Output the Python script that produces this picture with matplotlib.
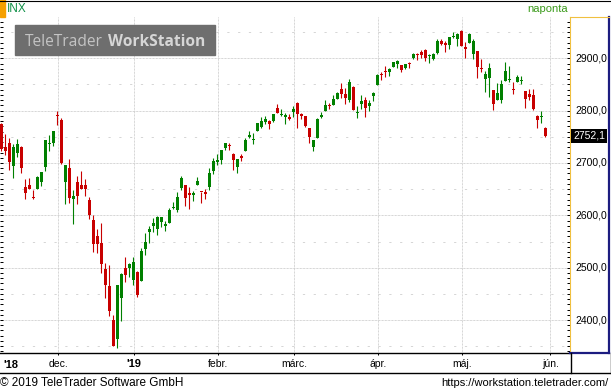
import numpy as np
import pandas as pd
import matplotlib
matplotlib.use('Agg')
import matplotlib.pyplot as plt
from matplotlib.patches import Rectangle

plt.rcParams['font.family'] = ['Liberation Sans', 'DejaVu Sans']

# trading days shown (INX daily, Nov 12 2018 - May 31 2019)
holidays = ['2018-11-22', '2018-12-05', '2018-12-25', '2019-01-01', '2019-01-21',
            '2019-02-18', '2019-04-19', '2019-05-27']
dates = pd.bdate_range('2018-11-12', '2019-05-31', freq='C', holidays=holidays)

opens = [2773.93, 2730.05, 2737.90, 2693.52, 2718.54, 2730.74, 2654.60, 2657.74, 2633.36, 2649.97,
         2663.75, 2691.45, 2736.97, 2737.76, 2790.50, 2782.43, 2663.51, 2691.26, 2630.86, 2664.44,
         2658.23, 2658.70, 2629.68, 2590.75, 2559.90, 2547.05, 2496.77, 2465.38, 2400.56, 2363.12,
         2442.50, 2498.77, 2498.94, 2476.96, 2491.92, 2474.33, 2535.61, 2568.11, 2580.00, 2573.51,
         2588.11, 2580.31, 2585.10, 2614.75, 2609.28, 2651.27, 2657.88, 2643.48, 2638.84, 2657.44,
         2644.97, 2644.89, 2653.62, 2685.49, 2702.32, 2706.49, 2728.34, 2735.05, 2717.53, 2692.36,
         2712.40, 2722.61, 2750.30, 2743.50, 2760.24, 2769.28, 2779.05, 2780.24, 2780.67, 2804.35,
         2792.36, 2787.50, 2788.11, 2798.22, 2814.37, 2794.41, 2790.27, 2766.53, 2730.79, 2747.61,
         2787.34, 2799.78, 2810.38, 2810.79, 2822.61, 2840.76, 2831.34, 2819.72, 2844.52, 2796.01,
         2812.66, 2819.72, 2809.40, 2828.27, 2848.63, 2868.24, 2876.09, 2873.99, 2884.16, 2888.46,
         2886.58, 2881.37, 2891.92, 2900.86, 2908.32, 2912.26, 2916.04, 2904.81, 2898.78, 2909.99,
         2934.00, 2928.99, 2925.81, 2940.58, 2937.14, 2952.33, 2922.16, 2929.21, 2908.89, 2913.03,
         2879.61, 2859.84, 2863.10, 2840.19, 2820.12, 2820.38, 2855.80, 2858.60, 2841.94, 2854.02,
         2856.06, 2836.70, 2832.41, 2830.03, 2790.25, 2786.94, 2766.15]
highs = [2775.99, 2754.60, 2746.80, 2735.38, 2746.75, 2733.16, 2669.44, 2670.73, 2647.55, 2674.35,
         2682.53, 2744.00, 2753.75, 2760.88, 2800.18, 2785.93, 2696.15, 2708.54, 2647.51, 2674.35,
         2685.44, 2670.19, 2635.07, 2601.13, 2573.99, 2585.29, 2509.63, 2504.41, 2410.34, 2467.76,
         2489.10, 2520.27, 2509.24, 2519.49, 2493.14, 2538.07, 2566.16, 2579.82, 2595.32, 2597.82,
         2596.27, 2589.32, 2613.08, 2625.76, 2645.06, 2675.47, 2657.88, 2653.19, 2647.20, 2672.38,
         2644.97, 2650.93, 2690.44, 2708.95, 2716.66, 2724.99, 2738.98, 2738.08, 2719.32, 2708.07,
         2718.05, 2748.19, 2761.85, 2757.90, 2775.66, 2787.33, 2789.88, 2781.58, 2794.20, 2813.49,
         2803.12, 2795.76, 2793.73, 2808.02, 2816.88, 2796.44, 2790.27, 2767.25, 2744.13, 2785.00,
         2798.32, 2821.24, 2815.00, 2830.73, 2835.41, 2852.42, 2843.54, 2860.31, 2846.16, 2809.79,
         2829.87, 2825.56, 2819.71, 2836.03, 2869.40, 2872.90, 2885.25, 2881.28, 2893.24, 2895.95,
         2886.88, 2889.71, 2893.42, 2910.54, 2909.60, 2916.06, 2918.00, 2908.40, 2909.51, 2936.31,
         2936.83, 2933.10, 2939.88, 2949.52, 2948.22, 2954.13, 2931.68, 2947.85, 2937.32, 2913.03,
         2897.96, 2875.97, 2891.31, 2840.19, 2852.54, 2858.68, 2892.15, 2885.48, 2853.86, 2868.88,
         2865.47, 2836.70, 2841.36, 2840.51, 2792.03, 2799.00, 2768.98]
lows = [2722.00, 2714.98, 2685.75, 2670.75, 2712.16, 2681.09, 2631.52, 2649.82, 2631.09, 2649.97,
        2655.89, 2684.38, 2722.94, 2732.76, 2773.38, 2697.18, 2621.53, 2623.14, 2583.23, 2621.30,
        2650.26, 2637.27, 2593.84, 2530.54, 2528.71, 2488.96, 2441.18, 2408.55, 2351.10, 2346.58,
        2397.94, 2472.89, 2482.82, 2467.47, 2443.96, 2474.33, 2524.56, 2547.56, 2568.89, 2562.02,
        2577.40, 2570.41, 2585.10, 2612.68, 2606.36, 2647.58, 2617.27, 2612.86, 2627.01, 2657.33,
        2624.06, 2631.05, 2648.34, 2678.65, 2696.88, 2698.75, 2724.03, 2724.15, 2687.26, 2681.83,
        2703.79, 2722.61, 2748.63, 2736.56, 2760.24, 2767.29, 2774.06, 2764.55, 2779.11, 2794.99,
        2789.47, 2775.13, 2782.51, 2787.38, 2767.66, 2783.83, 2768.69, 2739.09, 2722.27, 2747.61,
        2786.73, 2799.78, 2803.46, 2810.79, 2821.99, 2823.27, 2812.43, 2817.38, 2800.47, 2785.02,
        2803.99, 2787.72, 2798.77, 2819.23, 2848.63, 2858.75, 2865.17, 2867.14, 2882.99, 2880.78,
        2873.33, 2879.13, 2881.99, 2898.37, 2896.48, 2900.71, 2895.45, 2891.90, 2896.35, 2908.53,
        2926.05, 2912.84, 2917.56, 2939.35, 2924.11, 2923.36, 2900.50, 2929.21, 2898.21, 2862.60,
        2873.28, 2836.40, 2825.39, 2801.43, 2820.12, 2815.08, 2855.80, 2854.23, 2831.29, 2854.02,
        2851.11, 2805.49, 2820.19, 2801.58, 2766.06, 2776.74, 2750.52]
closes = [2726.22, 2722.18, 2701.58, 2730.20, 2736.27, 2690.73, 2641.89, 2649.93, 2632.56, 2673.45,
          2682.17, 2743.79, 2737.80, 2760.17, 2790.37, 2700.06, 2695.95, 2633.08, 2637.72, 2636.78,
          2651.07, 2650.54, 2599.95, 2545.94, 2546.16, 2506.96, 2467.42, 2416.62, 2351.10, 2467.70,
          2488.83, 2485.74, 2506.85, 2510.03, 2447.89, 2531.94, 2549.69, 2574.41, 2584.96, 2596.64,
          2596.26, 2582.61, 2610.30, 2616.10, 2635.96, 2670.71, 2632.90, 2638.70, 2642.33, 2664.76,
          2643.85, 2640.00, 2681.05, 2704.10, 2706.53, 2724.87, 2737.70, 2731.61, 2706.05, 2707.88,
          2709.80, 2744.73, 2753.03, 2745.73, 2775.60, 2779.76, 2784.70, 2774.88, 2792.67, 2796.11,
          2793.90, 2792.38, 2784.49, 2803.69, 2792.81, 2789.65, 2771.45, 2748.93, 2743.07, 2783.30,
          2791.52, 2810.92, 2808.48, 2822.48, 2832.94, 2832.57, 2824.23, 2854.88, 2800.71, 2798.36,
          2818.46, 2805.37, 2815.44, 2834.40, 2867.19, 2867.24, 2873.40, 2879.39, 2892.74, 2895.77,
          2878.20, 2888.21, 2888.32, 2907.41, 2905.58, 2907.06, 2900.45, 2905.03, 2907.97, 2933.68,
          2927.25, 2926.17, 2939.88, 2943.03, 2945.83, 2923.73, 2917.52, 2945.64, 2932.47, 2884.05,
          2879.42, 2870.72, 2881.40, 2811.87, 2834.41, 2850.96, 2876.32, 2859.53, 2840.23, 2864.36,
          2856.27, 2822.24, 2826.06, 2802.39, 2783.02, 2788.86, 2752.06]

month_labels = ['dec.', "'19", 'febr.', 'márc.', 'ápr.', 'máj.', 'jún.']
price_levels = [2400, 2500, 2600, 2700, 2800, 2900]

o = np.array(opens)
h = np.array(highs)
l = np.array(lows)
c = np.array(closes)
assert len(dates) == len(o)

# first trading day of each month, incl. June 3 after the data
ext = pd.bdate_range(dates[0], '2019-06-05', freq='C', holidays=holidays)
first_day = pd.Series(np.arange(len(ext)), index=ext).groupby([ext.year, ext.month]).first()
month_idx = first_day.values[1:8]

W, H = 611, 392
fig = plt.figure(figsize=(W / 100, H / 100), dpi=100)


def fy(py):
    return 1 - py / H


# main chart area: 4 px per trading day
ax = fig.add_axes([0, fy(353), 570 / W, (353 - 17) / H])
ax.set_xlim(-0.325, -0.325 + 570 / 4)
ax.set_ylim(2337.0, 2978.9)

for p in range(2350, 2980, 100):
    ax.axhline(p, color='#d6d6d6', lw=0.72, dashes=(2.2, 8.6), zorder=0)
for p in price_levels:
    ax.axhline(p, color='#c8c8c8', lw=0.72, dashes=(0.72, 0.72), zorder=0)
for m in month_idx:
    ax.axvline(m + 0.25, color='#c8c8c8', lw=0.72, dashes=(0.72, 0.72), zorder=0)

x = np.arange(len(o))
colors = np.where(c >= o, '#008000', '#c80000')
ax.vlines(x, l, h, colors=colors, lw=0.8, zorder=2)
ax.bar(x, np.maximum(np.abs(c - o), 1.9), bottom=np.minimum(o, c), width=0.75,
       color=colors, linewidth=0, zorder=3)

for s in ['top', 'right', 'left']:
    ax.spines[s].set_visible(False)
ax.spines['bottom'].set_linewidth(1.0)
ax.set_yticks(np.arange(2340, 2980, 10))
ax.tick_params(axis='y', direction='in', length=2.2, width=0.72, labelleft=False)
ax.set_xticks(month_idx + 0.25)
ax.set_xticklabels(month_labels, fontsize=7.5)
ax.tick_params(axis='x', direction='out', length=1.5, width=0.72, pad=3.0)
for lbl in ax.get_xticklabels():
    if lbl.get_text().startswith("'"):
        lbl.set_fontweight('bold')
        lbl.set_fontsize(8)

# price axis panel
ax2 = fig.add_axes([570 / W, fy(353), 39 / W, (353 - 17) / H])
ax2.set_ylim(ax.get_ylim())
ax2.set_xlim(0, 1)
ax2.set_xticks([])
ax2.spines['left'].set_color('#f0c040')
ax2.spines['top'].set_color('#f0c040')
ax2.spines['right'].set_color('#1c1c80')
ax2.spines['bottom'].set_color('#1c1c80')
ax2.spines['right'].set_linewidth(1.6)
ax2.spines['bottom'].set_linewidth(1.6)
ax2.set_yticks(np.arange(2340, 2980, 10))
ax2.tick_params(axis='y', direction='out', length=2.2, width=0.72, labelleft=False)
ytr = ax2.get_yaxis_transform()
for p in price_levels:
    ax2.text(0.14, p, f'{p},0', transform=ytr, fontsize=7.5, va='center', ha='left')
last = f'{c[-1]:.1f}'.replace('.', ',')
ax2.text(0.08, c[-1], last, transform=ytr, fontsize=7.5, va='center', ha='left', color='white',
         bbox=dict(boxstyle='square,pad=0.18', fc='black', ec='none'))

# overlay in pixel coordinates for frame, header and footer
ov = fig.add_axes([0, 0, 1, 1])
ov.set_xlim(0, W)
ov.set_ylim(H, 0)
ov.axis('off')
ov.patch.set_alpha(0)

ov.plot([0, W], [0.5, 0.5], color='black', lw=0.8)
ov.add_patch(Rectangle((0, 0), 5, 16.5, color='#f5a000'))
ov.text(7, 9, 'INX', fontsize=8.5, color='#109048', va='center', ha='left')
ov.text(548, 9, 'naponta', fontsize=8, color='#3a9a1a', va='center', ha='center')

# watermark
ov.add_patch(Rectangle((15, 25), 200, 29.5, color='#6e6e6e', zorder=3))
t1 = ov.text(25, 46, 'TeleTrader', fontsize=11.2, family='Open Sans', color='#c4c4c4',
             va='baseline', ha='left', zorder=4)
fig.canvas.draw()
bb = t1.get_window_extent()
x_end = bb.x1  # pixels from left
ov.text(x_end + 5, 46, 'WorkStation', fontsize=11.2, family='Open Sans', fontweight='bold',
        color='#d6d6d6', va='baseline', ha='left', zorder=4)

ov.plot([0, W], [373, 373], color='black', lw=1.0)
ov.plot([570.5, 570.5], [353, 373], color='black', lw=1.0)
ov.plot([610.5, 610.5], [353, 373], color='black', lw=1.0)
ov.text(3, 368.5, "'18", fontsize=8, fontweight='bold', va='baseline', ha='left')

ov.text(0, 386.5, '\u00a9 2019 TeleTrader Software GmbH', fontsize=8.5, va='baseline', ha='left')
ov.text(608, 386.5, 'https://workstation.teletrader.com/', fontsize=8, va='baseline', ha='right')

fig.savefig('out.png', dpi=100)
